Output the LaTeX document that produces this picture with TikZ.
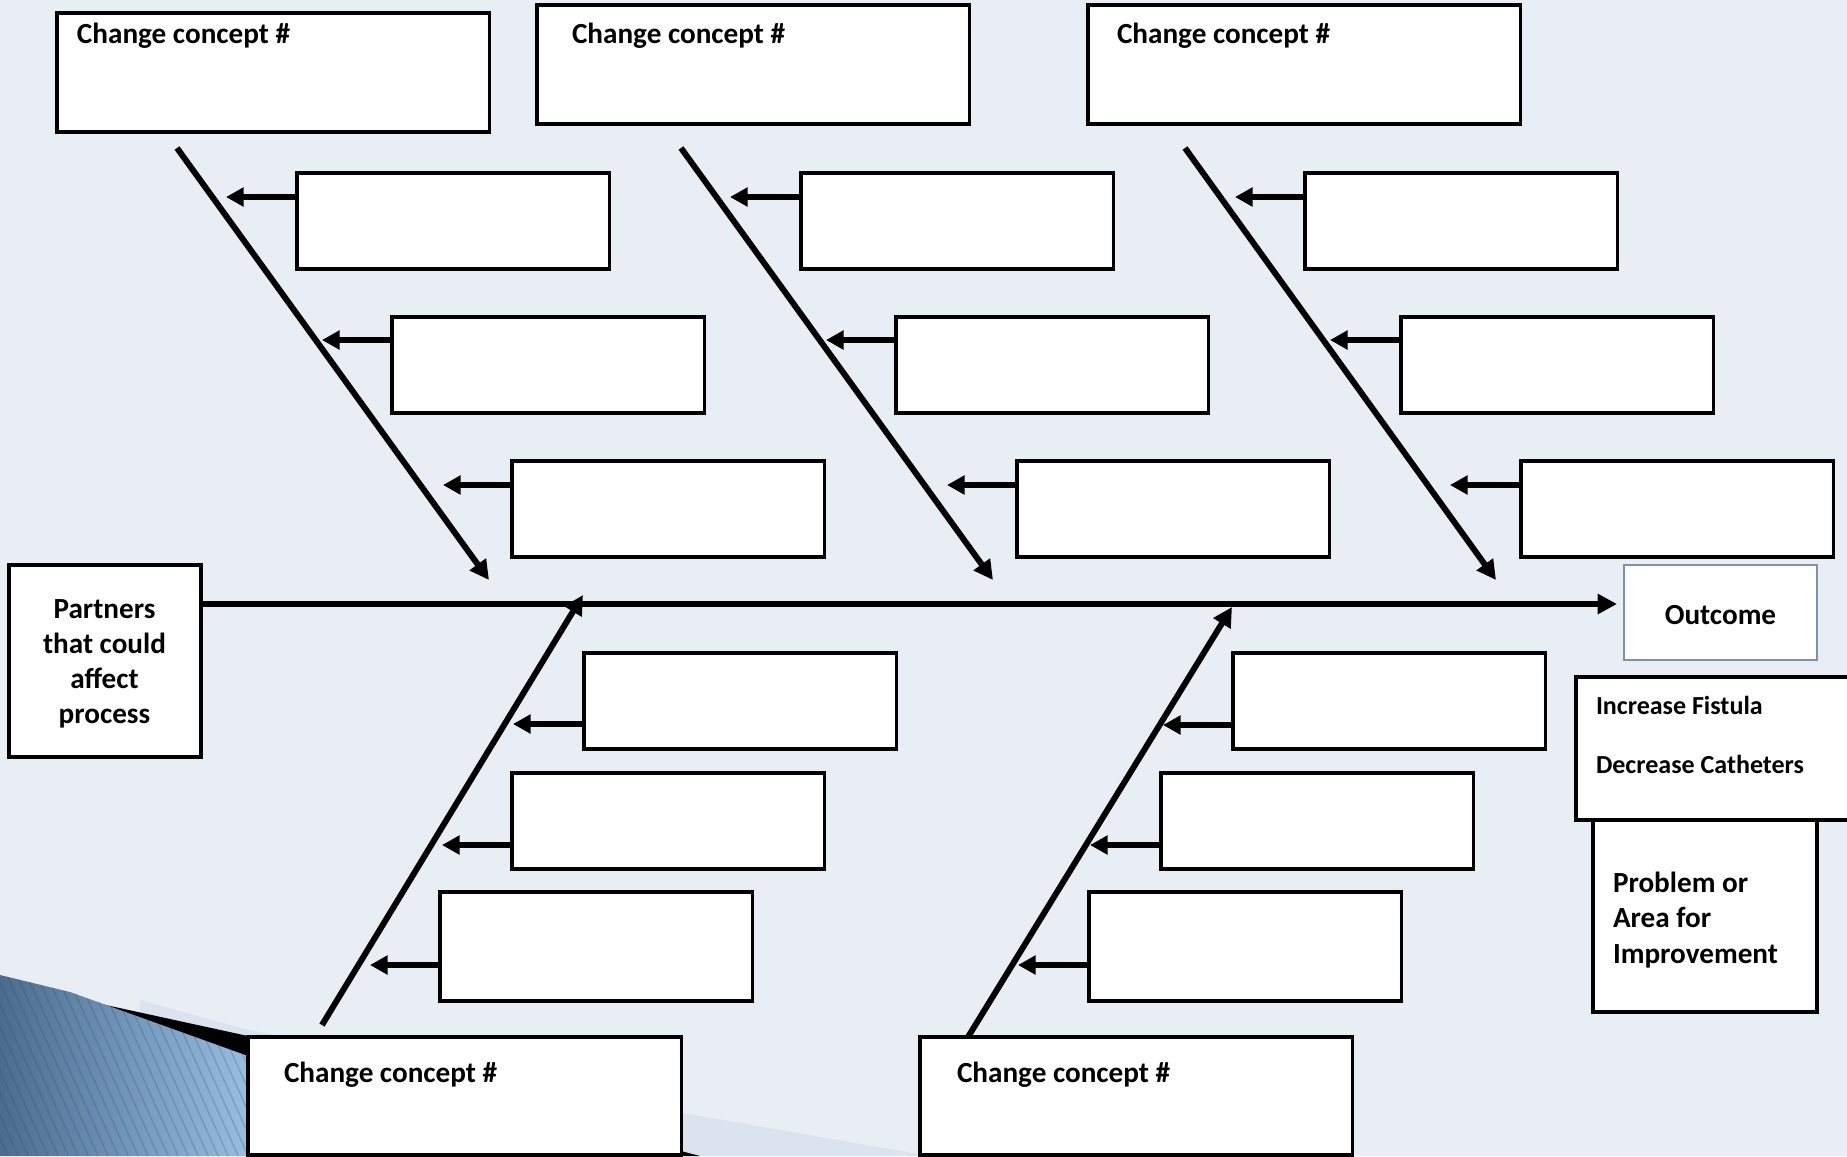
\documentclass[tikz,border=0pt]{standalone}
\usepackage{fontspec}
\setmainfont{Carlito}
\usetikzlibrary{arrows.meta}
\definecolor{bg}{HTML}{E9EEF5}
\definecolor{band}{HTML}{DAE3EE}
\definecolor{outbord}{HTML}{7A92AE}
\definecolor{bluedark}{RGB}{74,108,143}
\definecolor{bluelight}{RGB}{152,190,226}
\begin{document}
\begin{tikzpicture}[x=0.01cm,y=-0.01cm,
  box/.style={draw=black, fill=white, line width=0.95pt, inner sep=0pt, outer sep=0pt, anchor=north west},
  bigbox/.style={box, minimum width=4.32cm, minimum height=1.19cm},
  smallbox/.style={box, minimum width=3.12cm, minimum height=0.96cm},
  tallbox/.style={box, minimum width=3.12cm, minimum height=1.09cm},
  bone/.style={line width=1.7pt, -{Triangle[length=5.5pt,width=5.5pt]}},
  twig/.style={line width=1.6pt, -{Triangle[length=5pt,width=5.2pt]}},
  lbl/.style={font=\fontsize{8.3}{10}\selectfont\bfseries, inner sep=0pt, outer sep=0pt},
  slbl/.style={font=\fontsize{7.4}{9}\selectfont\bfseries, inner sep=0pt, outer sep=0pt, anchor=west}]
\useasboundingbox (0,0) rectangle (1847,1156);
\clip (0,0) rectangle (1847,1156);
\fill[bg] (0,0) rectangle (1847,1156);

% background decoration (bottom left)
\fill[band] (140,1000) -- (248,1030) -- (682,1113) -- (930,1156) -- (140,1156) -- cycle;
\fill[black] (60,995) -- (248,1036) -- (700,1156) -- (248,1156) -- cycle;
\begin{scope}
  \clip (0,975) -- (70,992) -- (248,1056) -- (248,1156) -- (0,1156) -- cycle;
  \shade[left color=bluedark, right color=bluelight] (0,960) rectangle (250,1156);
  \foreach \i in {-120,-110,...,260}
    \draw[bluedark!70!black, opacity=0.25, line width=0.4pt] (\i,960) -- ++(90,200);
\end{scope}

% top change-concept boxes
\node[bigbox] (cc1) at (57,13) {};
\node[bigbox] (cc2) at (537,5) {};
\node[bigbox] (cc3) at (1088,5) {};
\node[lbl, anchor=west] (cc1t) at (77,35.5) {Change concept \#};
\node[lbl, anchor=west] (cc2t) at (572,35.5) {Change concept \#};
\node[lbl, anchor=west] (cc3t) at (1117,35.5) {Change concept \#};

% bottom change-concept boxes
\node[box, minimum width=4.33cm, minimum height=1.18cm] (cc4) at (248,1037) {};
\node[box, minimum width=4.32cm, minimum height=1.18cm] (cc5) at (920,1037) {};
\node[lbl, anchor=west] (cc4t) at (284,1074.5) {Change concept \#};
\node[lbl, anchor=west] (cc5t) at (957,1074.5) {Change concept \#};

% top groups of small boxes
\node[smallbox] (g1a) at (297,173) {};
\node[smallbox] (g1b) at (392,317) {};
\node[smallbox] (g1c) at (512,461) {};
\node[smallbox] (g2a) at (801,173) {};
\node[smallbox] (g2b) at (896,317) {};
\node[smallbox] (g2c) at (1017,461) {};
\node[smallbox] (g3a) at (1305,173) {};
\node[smallbox] (g3b) at (1401,317) {};
\node[smallbox] (g3c) at (1521,461) {};

% bottom groups of small boxes
\node[smallbox] (g4a) at (584,653) {};
\node[smallbox] (g4b) at (512,773) {};
\node[tallbox] (g4c) at (440,892) {};
\node[smallbox] (g5a) at (1233,653) {};
\node[smallbox] (g5b) at (1161,773) {};
\node[tallbox] (g5c) at (1089,892) {};

% partners, outcome, problem boxes
\node[box, minimum width=1.92cm, minimum height=1.92cm] (partners) at (9,565) {};
\node[lbl, align=center] (partnerst) at (104.5,664) {Partners\\that could\\affect\\process};
\node[box, draw=outbord, line width=0.75pt, minimum width=1.93cm, minimum height=0.95cm] (outcome) at (1624,565) {};
\node[lbl] (outcomet) at (1720.5,615) {Outcome};
\node[box, minimum width=2.24cm, minimum height=1.92cm] (problem) at (1593,820) {};
\node[lbl, anchor=west, align=left] (problemt) at (1613,920) {Problem or\\Area for\\Improvement};
\node[box, minimum width=2.90cm, minimum height=1.43cm] (increase) at (1576,677) {};
\node[slbl] (inct) at (1596,705) {Increase Fistula};
\node[slbl] (dect) at (1596,764) {Decrease Catheters};

% spine
\draw[bone] (partners.east |- 0,604) -- (1617,604) coordinate (spineend);

% bones
\coordinate (b1s) at (177,148); \coordinate (b1e) at (489,580);
\coordinate (b2s) at (681,148); \coordinate (b2e) at (993,580);
\coordinate (b3s) at (1185,148); \coordinate (b3e) at (1496,580);
\coordinate (b4s) at (322,1025); \coordinate (b4e) at (583,595);
\coordinate (b5s) at (968,1037); \coordinate (b5e) at (1232,607);
\foreach \b in {1,...,5} \draw[bone] (b\b s) -- (b\b e);

% twig tips
\coordinate (t1a) at (226,197); \coordinate (t1b) at (322,340); \coordinate (t1c) at (443,485);
\coordinate (t2a) at (730,197); \coordinate (t2b) at (826,340); \coordinate (t2c) at (947,485);
\coordinate (t3a) at (1235,197); \coordinate (t3b) at (1330,340); \coordinate (t3c) at (1450,485);
\coordinate (t4a) at (513,724); \coordinate (t4b) at (442,845); \coordinate (t4c) at (370,965);
\coordinate (t5a) at (1163,725); \coordinate (t5b) at (1090,845); \coordinate (t5c) at (1018,965);
\foreach \g in {1,...,5}
  \foreach \k in {a,b,c}
    \draw[twig] (g\g\k.west |- t\g\k) -- (t\g\k);
\end{tikzpicture}
\end{document}
